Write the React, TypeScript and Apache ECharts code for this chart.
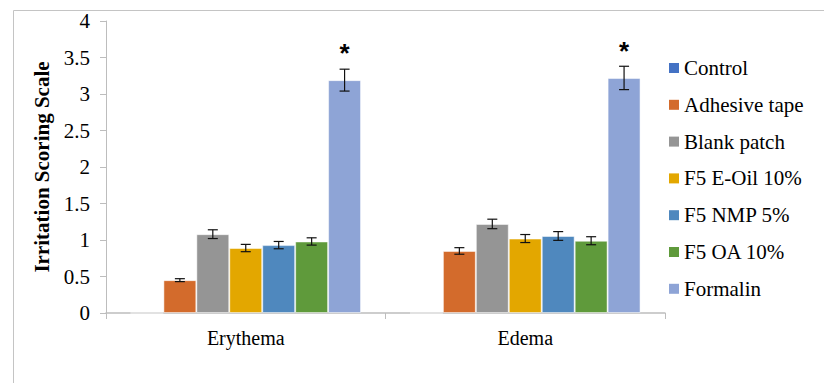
import React, { useEffect, useRef } from "react";
import * as echarts from "echarts";

const categories = ["Erythema", "Edema"];
const seriesNames = [
  "Control",
  "Adhesive tape",
  "Blank patch",
  "F5 E-Oil 10%",
  "F5 NMP 5%",
  "F5 OA 10%",
  "Formalin",
];
const controlValues = [0, 0];
const adhesiveValues = [0.45, 0.85];
const blankValues = [1.08, 1.22];
const eoilValues = [0.89, 1.02];
const nmpValues = [0.93, 1.055];
const oaValues = [0.98, 0.99];
const formalinValues = [3.19, 3.22];

const controlErr = [0, 0];
const adhesiveErr = [0.02, 0.045];
const blankErr = [0.06, 0.065];
const eoilErr = [0.05, 0.055];
const nmpErr = [0.05, 0.06];
const oaErr = [0.05, 0.055];
const formalinErr = [0.15, 0.16];

const significance = ["*", "*"];

const colors = ["#4472c4", "#d36b2c", "#959595", "#e3a700", "#4f88be", "#5f9a3b", "#8ea4d6"];

const allValues = [controlValues, adhesiveValues, blankValues, eoilValues, nmpValues, oaValues, formalinValues];
const allErr = [controlErr, adhesiveErr, blankErr, eoilErr, nmpErr, oaErr, formalinErr];

const CAT_GAP = 0.175;
const FONT = "Liberation Serif";

export default function App() {
  const ref = useRef<HTMLDivElement>(null);
  useEffect(() => {
    if (!ref.current) return;
    const chart = echarts.init(ref.current, undefined, { renderer: "svg" });
    const nSeries = seriesNames.length;

    const errData: number[][] = [];
    allValues.forEach((vals, s) => {
      vals.forEach((v, c) => {
        if (allErr[s][c] > 0) errData.push([c, s, v, allErr[s][c]]);
      });
    });

    const barSeries = seriesNames.map((name, s) => ({
      name,
      type: "bar",
      data: allValues[s],
      barGap: "0%",
      barCategoryGap: CAT_GAP * 100 + "%",
      itemStyle: { color: colors[s], borderColor: "rgba(255,255,255,0.5)", borderWidth: 1 },
      label:
        s === nSeries - 1
          ? {
              show: true,
              position: "top",
              distance: 14,
              formatter: (p: any) => significance[p.dataIndex],
              fontSize: 26,
              fontWeight: "bold",
              color: "#000",
              fontFamily: "Liberation Sans",
            }
          : { show: false },
    }));

    // Legend drawn as graphic, one entry per series name
    const LEG_X = 669;
    const LEG_Y0 = 68;
    const LEG_STEP = 36.8;
    const legendGraphics: any[] = [];
    seriesNames.forEach((name, i) => {
      const cy = LEG_Y0 + i * LEG_STEP;
      legendGraphics.push({
        type: "rect",
        shape: { x: LEG_X, y: cy - 5, width: 10, height: 10 },
        style: { fill: colors[i] },
        silent: true,
      });
      legendGraphics.push({
        type: "text",
        x: LEG_X + 15,
        y: cy,
        style: {
          text: name,
          font: "21px Liberation Serif, serif",
          fill: "#000",
          verticalAlign: "middle",
          align: "left",
        },
        silent: true,
      });
    });

    const option: any = {
      animation: false,
      backgroundColor: "#fff",
      textStyle: { fontFamily: FONT },
      graphic: [
        {
          type: "rect",
          shape: { x: 13.5, y: 10.5, width: 900, height: 500 },
          style: { fill: "none", stroke: "#c4c4c4", lineWidth: 1 },
          silent: true,
        },
        ...legendGraphics,
      ],
      grid: { left: 106, top: 21, right: 159, bottom: 70 },
      legend: { show: false, data: seriesNames },
      xAxis: {
        type: "category",
        data: categories,
        axisLine: { show: true, lineStyle: { color: "#bdbdbd", width: 1.5 } },
        axisTick: { show: true, length: 6, lineStyle: { color: "#bdbdbd" } },
        axisLabel: { fontSize: 20, fontFamily: FONT, color: "#000", margin: 15 },
      },
      yAxis: {
        type: "value",
        min: 0,
        max: 4,
        interval: 0.5,
        name: "Irritation Scoring Scale",
        nameLocation: "middle",
        nameGap: 53,
        nameTextStyle: { fontSize: 21, fontWeight: "bold", fontFamily: FONT, color: "#000" },
        axisLine: { show: true, lineStyle: { color: "#bdbdbd", width: 1 } },
        axisTick: { show: true, length: 6, lineStyle: { color: "#bdbdbd" } },
        splitLine: { show: false },
        axisLabel: { fontSize: 21, fontFamily: FONT, color: "#000", margin: 16 },
      },
      series: [
        ...barSeries,
        {
          type: "custom",
          name: "errors",
          z: 10,
          data: errData,
          encode: { x: 0, y: 2 },
          renderItem: (params: any, api: any) => {
            const c = api.value(0);
            const s = api.value(1);
            const v = api.value(2);
            const e = api.value(3);
            const catW = api.size([1, 0])[0];
            const groupW = catW * (1 - CAT_GAP);
            const bw = groupW / nSeries;
            const center = api.coord([c, v]);
            const x = center[0] - groupW / 2 + (s + 0.5) * bw;
            const top = api.coord([c, v + e])[1];
            const bot = api.coord([c, v - e])[1];
            const cap = 5;
            const st = { stroke: "#111", lineWidth: 1.2 };
            return {
              type: "group",
              children: [
                { type: "line", shape: { x1: x, y1: top, x2: x, y2: bot }, style: st },
                { type: "line", shape: { x1: x - cap, y1: top, x2: x + cap, y2: top }, style: st },
                { type: "line", shape: { x1: x - cap, y1: bot, x2: x + cap, y2: bot }, style: st },
              ],
            };
          },
        },
      ],
    };
    chart.setOption(option);
    return () => chart.dispose();
  }, []);
  return (
    <div
      ref={ref}
      style={{ position: "fixed", left: 0, top: 0, width: 824, height: 383, background: "#fff" }}
    />
  );
}
